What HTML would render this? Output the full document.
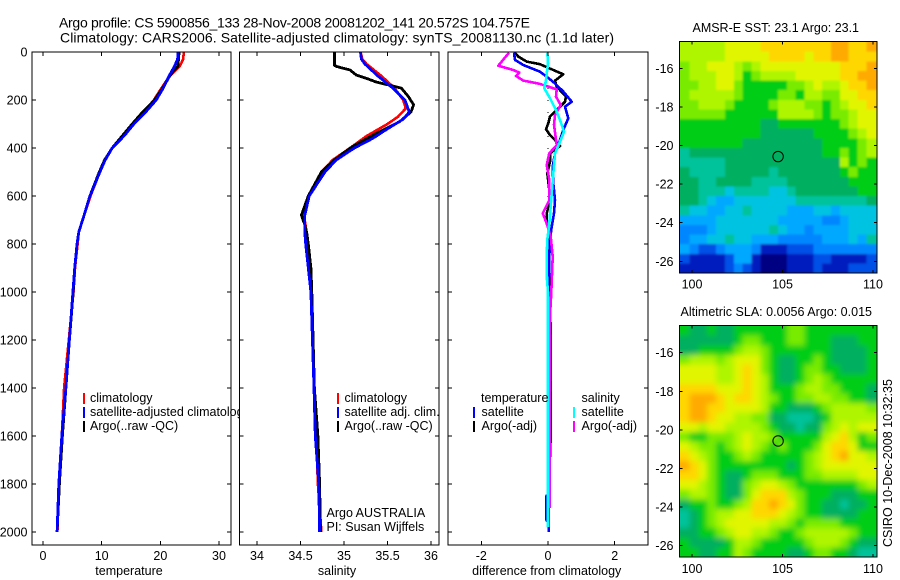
<!DOCTYPE html>
<html lang="en">
<head>
<meta charset="utf-8">
<title>Argo profile 5900856_133</title>
<style>
html,body{margin:0;padding:0;background:#fff;}
svg{display:block;font-family:"Liberation Sans",sans-serif;}
text{fill:#000;font-size:12.5px;}
</style>
</head>
<body>
<svg id="root" width="900" height="580" viewBox="0 0 900 580">
  <defs>
    <filter id="blur-sst" filterUnits="userSpaceOnUse" x="660" y="20" width="240" height="270"><feGaussianBlur stdDeviation="1.1"/></filter>
    <filter id="blur-sla" filterUnits="userSpaceOnUse" x="660" y="305" width="240" height="270"><feGaussianBlur stdDeviation="2.8"/></filter>
  </defs>
  <text x="59" y="27.5" style="font-size:14px" textLength="471">Argo profile: CS 5900856_133 28-Nov-2008 20081202_141 20.572S 104.757E</text>
  <text x="60" y="42.5" style="font-size:14px" textLength="554">Climatology: CARS2006. Satellite-adjusted climatology: synTS_20081130.nc (1.1d later)</text>
  <g id="p1"></g>
  <g id="p2"></g>
  <g id="p3"></g>
  <g id="m1"></g>
  <g id="m2"></g>
  <text x="692.5" y="32" textLength="166.5">AMSR-E SST: 23.1 Argo: 23.1</text>
  <text x="680.5" y="316" textLength="191.5">Altimetric SLA: 0.0056 Argo: 0.015</text>
  <text transform="translate(892 547) rotate(-90)" textLength="168">CSIRO 10-Dec-2008 10:32:35</text>
</svg>
<script>
// ---- profile data ----
const depthTicks = [0,200,400,600,800,1000,1200,1400,1600,1800,2000];
const tempTicks = [0,10,20,30];
const salTicks = [34,34.5,35,35.5,36];
const salTickLabels = ['34','34.5','35','35.5','36'];
const diffTicks = [-2,0,2];

const tempClimDepth = [0,30,60,100,150,200,250,300,350,400,450,500,600,680,750,800,900,1000,1200,1400,1600,1800,2000];
const tempClimValue = [24.0,23.9,23.3,21.6,20.2,18.9,17.2,15.3,13.6,11.8,10.5,9.7,8.1,7.0,6.1,5.9,5.45,5.2,4.4,3.6,3.2,2.7,2.45];
const tempArgoDepth = [0,60,80,100,150,200,250,300,350,400,450,500,600,680,750,800,900,1000,1200,1400,1600,1800,2000];
const tempArgoValue = [23.2,23.0,22.2,21.6,20.4,19.0,17.0,15.2,13.5,11.8,10.5,9.6,8.0,7.0,6.1,5.8,5.4,5.15,4.5,3.9,3.3,2.8,2.4];
const tempSatDepth = [0,30,60,100,150,200,250,300,350,400,450,500,600,680,750,800,900,1000,1200,1400,1600,1800,2000];
const tempSatValue = [23.0,22.95,22.4,21.5,20.5,19.3,17.5,15.5,13.8,11.8,10.6,9.7,8.0,7.0,6.1,5.8,5.4,5.1,4.5,3.9,3.2,2.7,2.4];

const salClimDepth = [0,30,50,100,150,200,235,270,300,350,400,450,500,600,680,750,800,900,1000,1400,1600,1800,2000];
const salClimValue = [35.19,35.21,35.26,35.43,35.58,35.68,35.71,35.62,35.5,35.26,35.07,34.87,34.74,34.59,34.54,34.57,34.59,34.61,34.62,34.66,34.68,34.7,34.74];
const salArgoDepth = [0,55,60,75,96,110,125,140,151,186,220,250,290,339,400,450,500,600,680,720,750,800,900,1000,1400,1600,1800,2000];
const salArgoValue = [34.89,34.89,34.91,35.07,35.14,35.26,35.37,35.54,35.66,35.74,35.8,35.77,35.64,35.37,35.07,34.89,34.74,34.59,34.51,34.55,34.57,34.59,34.62,34.63,34.66,34.7,34.72,34.73];
const salSatDepth = [0,30,50,100,150,200,250,280,320,360,400,450,500,600,680,750,800,900,1000,1400,1600,1800,2000];
const salSatValue = [35.19,35.2,35.24,35.39,35.56,35.7,35.75,35.68,35.5,35.33,35.12,34.91,34.78,34.6,34.55,34.55,34.56,34.59,34.62,34.655,34.67,34.71,34.72];

const zeroDepth = [150,2000];
const zeroValue = [0,0];
const diffTempSatDepth = [3,33,54,82,103,131,165,207,228,276,325,367,422,478,547,617,672,728,783,853,1000,1200,1350,1500,1840,1850,1950,1960,2000];
const diffTempSatValue = [-1.02,-.99,-.74,-.24,-.04,.21,.46,.71,.51,.61,.46,.36,.21,.14,.16,.21,.18,.11,.06,.04,.02,.08,.08,.03,.03,-.05,-.05,.02,.02];
const diffTempArgoDepth = [3,19,40,51,75,93,119,144,186,207,235,269,297,322,346,367,392,422,457,506,575,631,672,707,749,853,1000,1150,1500,1600,1800,2000];
const diffTempArgoValue = [-.99,-.89,-.64,-.24,.16,.46,.21,.26,.54,.51,.31,.06,.01,-.06,.06,.21,.36,.06,.06,-.02,.04,.04,-.04,-.04,.04,.04,.04,.08,.08,.08,.03,.02];
const diffSalSatDepth = [3,47,117,151,193,242,283,332,381,422,506,589,714,783,853,950,1000,1200,1500,1800,1980];
const diffSalSatValue = [-.02,0,-.06,-.11,.06,.24,.36,.48,.34,.21,.16,.11,.04,-.02,-.04,-.03,0,0,0,0,0];
const diffSalArgoDepth = [3,57,75,86,100,119,133,156,186,221,263,303,388,422,471,533,617,672,714,769,853,1000,1100,1300,1500,1900];
const diffSalArgoValue = [-1.17,-1.49,-1.04,-.86,-.96,-.74,-.24,.26,.24,.38,.21,.18,.26,.04,-.04,.04,.04,-.16,-.04,.08,.14,.1,.06,.05,.05,.05];

// ---- map data (colour level per cell, north to south) ----
const mapLonTicks = [100,105,110];
const mapLatTicks = [-16,-18,-20,-22,-24,-26];
const argoLon = 104.757;
const argoLat = -20.572;
const sstLevels = [
[10,10,10,10,10,11,11,11,11,12,12,12,12,12,12,12,12,13,13,12,12,13],
[10,10,10,10,10,11,11,11,11,11,12,12,12,12,11,12,12,13,13,12,12,12],
[9,10,10,11,11,11,10,9,10,11,11,11,11,11,11,11,11,11,12,12,12,13],
[9,10,10,10,11,11,10,8,9,10,10,10,10,11,11,11,11,11,12,12,13,13],
[9,9,10,10,11,11,9,8,8,8,8,8,9,9,10,11,10,10,11,12,12,13],
[9,10,10,10,10,10,9,8,8,8,8,9,9,8,10,10,9,9,11,11,12,12],
[9,9,10,10,10,9,8,8,8,8,9,10,10,10,9,9,8,9,10,11,11,12],
[9,9,9,9,9,8,8,8,8,8,8,10,10,10,10,9,8,9,9,10,11,11],
[8,8,8,8,8,8,8,8,8,7,7,8,8,8,8,8,8,8,9,10,11,11],
[8,8,8,8,8,8,8,8,8,7,7,7,7,7,7,8,8,8,8,9,10,11],
[8,8,8,8,8,8,8,7,7,7,7,7,7,7,7,7,8,8,8,8,9,10],
[6,7,7,7,7,7,7,7,7,7,7,7,7,7,7,7,8,8,9,8,9,10],
[6,6,6,6,6,7,7,7,7,7,7,7,7,7,7,7,7,7,10,8,9,8],
[7,6,6,6,6,7,7,7,7,7,6,7,7,7,7,7,7,7,8,9,8,8],
[7,7,6,6,7,7,7,7,6,6,6,6,7,7,7,7,7,7,7,8,8,8],
[7,7,6,6,6,5,6,6,6,6,5,5,6,7,7,7,7,7,7,7,8,8],
[7,7,6,5,4,4,5,5,5,5,5,5,5,6,6,6,6,6,6,6,6,7],
[6,5,5,4,4,5,5,6,5,5,5,5,4,4,4,5,5,4,5,5,5,5],
[4,4,4,4,5,5,5,5,5,5,5,4,4,4,4,4,3,3,4,5,5,5],
[3,3,3,4,5,5,5,5,5,5,6,5,4,4,3,4,4,4,4,5,5,5],
[3,4,4,5,5,6,5,5,4,4,4,3,3,3,3,3,4,4,4,5,4,6],
[4,3,2,2,3,4,4,4,3,1,1,1,2,2,2,3,3,3,3,3,3,3],
[2,1,1,1,1,2,4,4,1,0,0,0,1,1,1,2,2,1,1,1,1,2],
[1,1,1,1,1,2,3,2,1,0,0,0,1,1,1,2,1,1,1,2,2,2]
];
const slaLevels = [
[8,7,7,8,7,7,8,8,8,8,8,8,9,9,8,8,8,8,8,8,8,8],
[7,7,7,7,7,7,8,9,9,8,8,8,9,9,8,8,8,7,7,7,8,8],
[7,7,8,8,8,8,9,10,10,9,8,8,8,8,8,8,8,7,7,7,7,8],
[9,10,10,10,9,10,11,11,11,9,8,7,7,8,8,9,8,7,7,7,7,8],
[11,11,11,11,10,10,11,12,11,9,8,7,7,8,9,9,8,8,7,7,7,8],
[11,11,11,11,10,10,11,12,11,10,8,7,7,8,9,10,9,8,8,8,8,8],
[12,12,12,12,11,11,11,12,11,10,8,8,8,9,10,10,9,9,8,8,8,7],
[12,13,13,13,12,11,12,12,11,10,9,8,8,9,9,10,10,9,9,8,8,7],
[12,13,13,12,12,11,11,11,11,10,8,8,7,7,7,8,9,10,10,10,10,9],
[12,13,13,12,11,11,10,10,9,9,7,7,6,6,6,7,8,10,10,10,10,10],
[11,11,10,11,11,10,10,10,10,9,8,7,7,6,7,7,9,10,11,10,11,11],
[9,8,8,9,9,9,10,11,10,10,9,8,8,8,8,8,10,11,12,10,8,9],
[11,10,9,9,8,9,10,11,10,9,8,9,8,8,8,9,11,12,12,11,8,8],
[12,11,10,9,8,8,9,10,9,8,8,8,8,8,9,10,11,12,13,11,11,10],
[13,12,11,9,8,8,8,8,8,8,8,8,7,8,9,10,11,11,11,11,11,11],
[12,12,11,9,8,7,7,8,9,9,9,8,8,8,9,9,10,10,10,10,11,11],
[11,11,10,9,8,7,7,9,10,11,11,10,9,8,8,8,8,8,8,8,9,10],
[9,10,10,9,8,7,7,9,11,12,12,12,10,9,8,8,8,7,7,7,8,8],
[7,8,8,9,8,8,9,10,12,12,13,12,11,9,8,8,7,7,6,7,7,8],
[6,7,8,9,10,10,11,11,12,12,12,11,10,9,8,8,7,7,7,7,8,8],
[6,7,8,9,10,11,11,11,11,11,10,10,9,8,9,9,9,9,8,8,8,8],
[7,7,8,8,9,10,11,11,10,10,9,8,8,9,10,10,10,10,10,9,8,8],
[8,7,7,7,7,8,10,10,9,8,8,8,8,8,9,10,10,10,9,8,7,7],
[8,8,7,7,8,8,10,9,8,8,8,8,7,7,8,9,9,8,8,7,6,6]
];

// ---- drawing ----
const NS = 'http://www.w3.org/2000/svg';
const palette = ['#000082','#001ebe','#0050e6','#0087ff','#00a8ff','#00c3e1','#00c39b','#00af5f','#00cd14','#78eb00','#aff500','#e1f500','#ffd700','#ffaa00'];

function make(parent, tag, attrs, text) {
  const el = document.createElementNS(NS, tag);
  for (const k in attrs) el.setAttribute(k, attrs[k]);
  if (text !== undefined) el.textContent = text;
  parent.appendChild(el);
  return el;
}
function linear(d0, r0, d1, r1) {
  return v => r0 + (v - d0) * (r1 - r0) / (d1 - d0);
}
const depthY = linear(0, 52, 2000, 532);
const tempX = linear(0, 43, 30, 219);
const salX = linear(34, 257, 36, 431);
const diffX = linear(-2, 481.3, 2, 614.7);

function frame(g, name, x0, x1, y0, y1) {
  const r = make(g, 'rect', {x:x0, y:y0, width:x1-x0, height:y1-y0, fill:'#fff', stroke:'none'});
  
  
}
function border(g, name, x0, x1, y0, y1) {
  const r = make(g, 'rect', {x:x0, y:y0, width:x1-x0, height:y1-y0, fill:'none', stroke:'#000', 'stroke-width':1, 'shape-rendering':'crispEdges'});
  
  
}
function tick(g, name, x1, y1, x2, y2) {
  const t = make(g, 'line', {x1:x1, y1:y1, x2:x2, y2:y2, stroke:'#000', 'stroke-width':1, 'shape-rendering':'crispEdges'});
  
  
}
function label(g, name, x, y, str, anchor) {
  const t = make(g, 'text', {x:x, y:y, 'text-anchor':anchor || 'start'}, str);
  
  
  return t;
}
function series(g, name, depths, values, xf, color, width, dash) {
  const pts = depths.map((d, i) => xf(values[i]).toFixed(1) + ',' + depthY(d).toFixed(1)).join(' ');
  const attrs = {points:pts, fill:'none', stroke:color, 'stroke-width':width, 'shape-rendering':'crispEdges', 'stroke-linejoin':'round'};
  if (dash) attrs['stroke-dasharray'] = dash;
  const p = make(g, 'polyline', attrs);
  
  
}
function legendMark(g, name, x, y, color) {
  const m = make(g, 'rect', {x:x-1, y:y, width:2, height:11, fill:color, 'shape-rendering':'crispEdges'});
  
  
}
function profileAxes(g, name, x0, x1, xf, xTicks, xLabels, xTitle, xTitleX, showDepth) {
  const y0 = 52, y1 = 545;
  depthTicks.forEach(d => {
    const y = depthY(d);
    tick(g, name + '-y-tick-left', x0, y, x0 + 4, y);
    tick(g, name + '-y-tick-right', x1 - 4, y, x1, y);
    if (showDepth) label(g, 'depth-tick-label', 27.5, y + 4.5, String(d), 'end');
  });
  xTicks.forEach((v, i) => {
    const x = xf(v);
    tick(g, name + '-x-tick-bottom', x, y1 - 4, x, y1);
    tick(g, name + '-x-tick-top', x, y0, x, y0 + 4);
    label(g, name + '-x-tick-label', x, 560, xLabels[i], 'middle');
  });
  label(g, name + '-x-axis-title', xTitleX, 575, xTitle, 'middle');
  border(g, name, x0, x1, y0, y1);
}

// temperature panel
const p1 = document.getElementById('p1');
frame(p1, 'temperature', 32, 231, 52, 545);
series(p1, 'temperature-climatology-line', tempClimDepth, tempClimValue, tempX, '#ff0000', 2.6);
series(p1, 'temperature-argo-line', tempArgoDepth, tempArgoValue, tempX, '#000000', 2.8);
series(p1, 'temperature-satellite-line', tempSatDepth, tempSatValue, tempX, '#0000ff', 2.8);
profileAxes(p1, 'temperature', 32, 231, tempX, tempTicks, tempTicks.map(String), 'temperature', 129, true);
legendMark(p1, 'legend-mark-climatology', 84, 393, '#ff0000');
legendMark(p1, 'legend-mark-satellite', 84, 407, '#0000ff');
legendMark(p1, 'legend-mark-argo', 84, 421, '#000000');
label(p1, 'legend-entry-climatology', 90, 402, 'climatology');
label(p1, 'legend-entry-satellite', 90, 416, 'satellite-adjusted climatology');
label(p1, 'legend-entry-argo', 90, 430, 'Argo(..raw -QC)');

// salinity panel
const p2 = document.getElementById('p2');
frame(p2, 'salinity', 239.5, 439, 52, 545);
series(p2, 'salinity-climatology-line', salClimDepth, salClimValue, salX, '#ff0000', 2.6);
series(p2, 'salinity-argo-line', salArgoDepth, salArgoValue, salX, '#000000', 2.8);
series(p2, 'salinity-satellite-line', salSatDepth, salSatValue, salX, '#0000ff', 2.8);
profileAxes(p2, 'salinity', 239.5, 439, salX, salTicks, salTickLabels, 'salinity', 337, false);
legendMark(p2, 'salinity-legend-mark-climatology', 338, 393, '#ff0000');
legendMark(p2, 'salinity-legend-mark-satellite', 338, 407, '#0000ff');
legendMark(p2, 'salinity-legend-mark-argo', 338, 421, '#000000');
label(p2, 'salinity-legend-entry-climatology', 344.5, 402, 'climatology');
label(p2, 'salinity-legend-entry-satellite', 344.5, 416, 'satellite adj. clim.');
label(p2, 'salinity-legend-entry-argo', 344.5, 430, 'Argo(..raw -QC)');
label(p2, 'float-country-label', 326.5, 517, 'Argo AUSTRALIA');
label(p2, 'principal-investigator-label', 326.5, 531, 'PI: Susan Wijffels');

// difference panel
const p3 = document.getElementById('p3');
frame(p3, 'difference', 448, 648, 52, 545);
series(p3, 'zero-reference-line', zeroDepth, zeroValue, diffX, '#000000', 1, '1 11');
series(p3, 'difference-temperature-argo-line', diffTempArgoDepth, diffTempArgoValue, diffX, '#000000', 2.6);
series(p3, 'difference-temperature-satellite-line', diffTempSatDepth, diffTempSatValue, diffX, '#0000ff', 2.6);
series(p3, 'difference-salinity-argo-line', diffSalArgoDepth, diffSalArgoValue, diffX, '#ff00ff', 2.6);
series(p3, 'difference-salinity-satellite-line', diffSalSatDepth, diffSalSatValue, diffX, '#00ffff', 2.6);
profileAxes(p3, 'difference', 448, 648, diffX, diffTicks, diffTicks.map(String), 'difference from climatology', 546.7, false);
label(p3, 'legend-heading-temperature', 481, 402, 'temperature');
label(p3, 'legend-heading-salinity', 581.5, 402, 'salinity');
label(p3, 'diff-legend-entry-temp-satellite', 481.5, 416, 'satellite');
label(p3, 'diff-legend-entry-temp-argo', 481.5, 430, 'Argo(-adj)');
label(p3, 'diff-legend-entry-sal-satellite', 581.5, 416, 'satellite');
label(p3, 'diff-legend-entry-sal-argo', 581.5, 430, 'Argo(-adj)');
legendMark(p3, 'diff-legend-mark-temp-satellite', 474, 407, '#0000ff');
legendMark(p3, 'diff-legend-mark-temp-argo', 474, 421, '#000000');
legendMark(p3, 'diff-legend-mark-sal-satellite', 574, 407, '#00ffff');
legendMark(p3, 'diff-legend-mark-sal-argo', 574, 421, '#ff00ff');

// maps
function drawMap(g, name, levels, top, bottom, lat16Y, xLabelY, filterId) {
  const lonX = linear(100, 692, 110, 873);
  const latY = linear(-16, lat16Y, -26, lat16Y + 193);
  const x0 = 679.5, x1 = 877;
  const cols = levels[0].length, rows = levels.length;
  const lonStart = 99.375, lonStep = 10.75 / cols;
  const latStart = -16 + (lat16Y - top - 0.5) / 19.3, latStep = (bottom - top - 0.5) / 19.3 / rows;
  const clip = make(g, 'clipPath', {id:name + '-clip'});
  make(clip, 'rect', {x:x0, y:top, width:x1-x0, height:bottom-top});
  const clipGroup = make(g, 'g', {'clip-path':'url(#' + name + '-clip)'});
  const cells = make(clipGroup, 'g', {filter:'url(#' + filterId + ')'});
  
  
  levels.forEach((row, r) => {
    row.forEach((v, c) => {
      let xa = lonX(lonStart + c * lonStep), xb = lonX(lonStart + (c + 1) * lonStep);
      let ya = latY(latStart - r * latStep), yb = latY(latStart - (r + 1) * latStep);
      if (c === 0) xa -= 10;
      if (c === cols - 1) xb += 10;
      if (r === 0) ya -= 10;
      if (r === rows - 1) yb += 10;
      const cell = make(cells, 'rect', {x:xa.toFixed(2), y:ya.toFixed(2), width:(xb-xa+0.5).toFixed(2), height:(yb-ya+0.5).toFixed(2), fill:palette[v], 'shape-rendering':'crispEdges'});
      
      
    });
  });
  mapLonTicks.forEach(v => {
    const x = lonX(v);
    tick(g, name + '-lon-tick-bottom', x, bottom - 3, x, bottom);
    tick(g, name + '-lon-tick-top', x, top, x, top + 3);
    label(g, name + '-lon-tick-label', x, xLabelY, String(v), 'middle');
  });
  mapLatTicks.forEach(v => {
    const y = latY(v);
    tick(g, name + '-lat-tick-left', x0, y, x0 + 3, y);
    tick(g, name + '-lat-tick-right', x1 - 3, y, x1, y);
    label(g, name + '-lat-tick-label', 673.5, y + 4.5, String(v), 'end');
  });
  border(g, name, x0, x1, top, bottom);
  const c = make(g, 'circle', {cx:lonX(argoLon), cy:latY(argoLat), r:5.2, fill:'none', stroke:'#000', 'stroke-width':1});
  
  
}
drawMap(document.getElementById('m1'), 'sst-map', sstLevels, 41.5, 273, 68.3, 288.5, 'blur-sst');
drawMap(document.getElementById('m2'), 'sla-map', slaLevels, 325.5, 557, 352.7, 573, 'blur-sla');
</script>
</body>
</html>
